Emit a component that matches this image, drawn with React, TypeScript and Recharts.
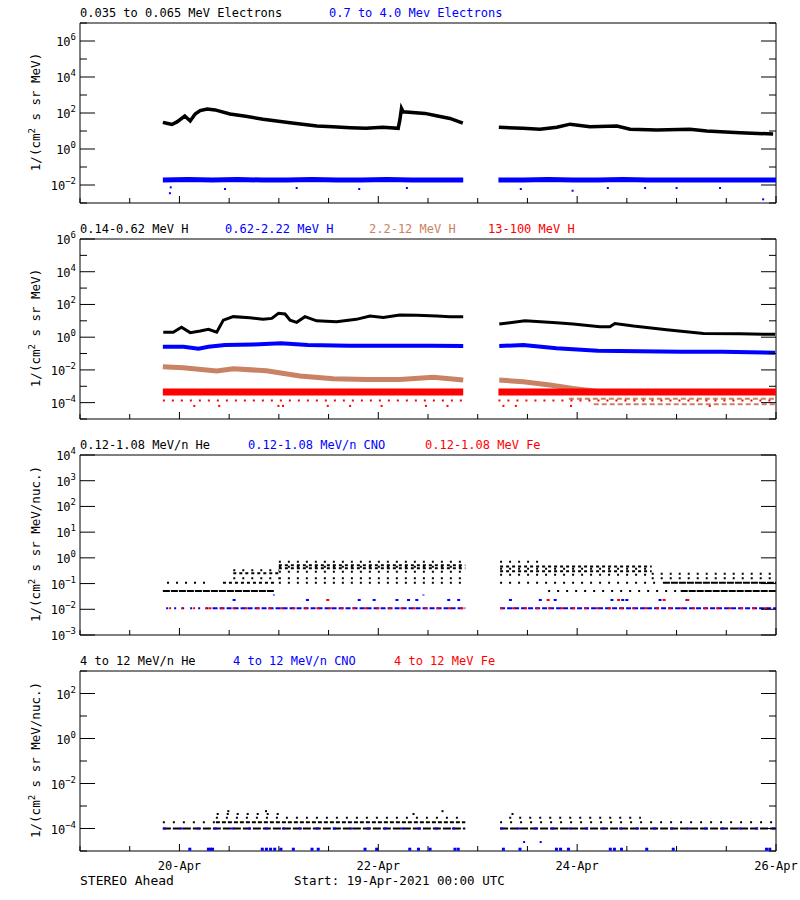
import { ComposedChart, Line, Scatter, XAxis, YAxis, ReferenceArea } from 'recharts'

type Pt = [number, number]
type Run = [number, number, number]

const FONT = "'DejaVu Sans Mono', 'Liberation Mono', monospace"
const TAN = '#c98264'

// time axis: hours since 19-Apr-2021 00:00 UTC
const hourTicks = [0, 12, 24, 36, 48, 60, 72, 84, 96, 108, 120, 132, 144, 156, 168]
const dateLabels: Record<number, string> = { 24: '20-Apr', 72: '22-Apr', 120: '24-Apr', 168: '26-Apr' }

// y ticks per panel (decades) and the ones that carry a label
const p1Ticks = [1e-3, 1e-2, 1e-1, 1, 1e1, 1e2, 1e3, 1e4, 1e5, 1e6, 1e7]
const p1Labelled = [-2, 0, 2, 4, 6]
const p2Ticks = [1e-5, 1e-4, 1e-3, 1e-2, 1e-1, 1, 1e1, 1e2, 1e3, 1e4, 1e5, 1e6]
const p2Labelled = [-4, -2, 0, 2, 4, 6]
const p3Ticks = [1e-3, 1e-2, 1e-1, 1, 1e1, 1e2, 1e3, 1e4]
const p3Labelled = [-3, -2, -1, 0, 1, 2, 3, 4]
const p4Ticks = [1e-5, 1e-4, 1e-3, 1e-2, 1e-1, 1, 1e1, 1e2, 1e3]
const p4Labelled = [-4, -2, 0, 2]

// panel 1: electrons
const eLowSeg1: Pt[] = [
  [20, 30], [21.2, 26], [22.2, 23], [23.4, 32], [25.3, 68], [26.6, 36], [27.8, 88], [29, 135],
  [30.7, 165], [32.6, 148], [36.2, 88], [40, 66], [44.2, 45], [50.7, 29], [57.2, 19], [61, 17],
  [65.2, 15], [69, 14], [73.1, 16], [76.8, 14], [77.2, 40], [77.6, 180], [78, 117], [83.3, 95],
  [86, 70], [89.3, 50], [92.4, 27],
]
const eLowSeg2: Pt[] = [
  [101.1, 16], [106.9, 14], [111, 12.6], [115.1, 16], [118.3, 24], [123.1, 17], [129.6, 19],
  [132.8, 12.6], [139.3, 11.5], [147.2, 12.6], [151.3, 10], [159.3, 8.1], [167.3, 6.8],
]
const eHighSeg1: Pt[] = [
  [20, 0.019], [26, 0.02], [32, 0.019], [38, 0.02], [44, 0.019], [50, 0.019], [56, 0.02],
  [62, 0.019], [68, 0.019], [74, 0.02], [80, 0.019], [86, 0.019], [92.5, 0.019],
]
const eHighSeg2: Pt[] = [
  [101, 0.019], [107, 0.019], [113, 0.02], [119, 0.019], [125, 0.019], [131, 0.02], [137, 0.019],
  [143, 0.019], [149, 0.019], [155, 0.019], [161, 0.019], [168, 0.019],
]
const eHighLow: Pt[] = [
  [21.7, 0.0035], [21.9, 0.0074], [35, 0.006], [52.3, 0.0068], [67.4, 0.006], [78.9, 0.0068],
  [106.4, 0.006], [118.9, 0.0048], [127.4, 0.0068], [136.4, 0.0068], [144, 0.0068],
  [154.5, 0.0068], [164.9, 0.0016],
]

// panel 2: protons
const h1Seg1: Pt[] = [
  [20.1, 2.0], [22.5, 2.0], [24.5, 4.0], [26.6, 1.9], [29, 2.4], [31, 3.0], [33, 2.0], [34.6, 11],
  [37, 18], [41, 15.5], [44.2, 12.3], [46.3, 14], [47.9, 29], [49.5, 26], [50.7, 11], [52.3, 8.1],
  [54.3, 18], [57.1, 10], [61.9, 8.9], [66.7, 12.3], [70, 19.5], [73.2, 16], [77.2, 23],
  [81.3, 22], [86.1, 20], [89.3, 18], [92.5, 18],
]
const h1Seg2: Pt[] = [
  [101.2, 6.3], [107.4, 10], [115, 7.6], [119, 6.3], [125.5, 4.4], [127.9, 4.4], [129.1, 6.9],
  [133.6, 4.8], [141.6, 2.8], [150.5, 1.7], [159.3, 1.6], [167.8, 1.5],
]
const h2Seg1: Pt[] = [
  [20, 0.26], [25, 0.26], [28.6, 0.2], [31, 0.26], [35, 0.33], [42, 0.36], [48.5, 0.42],
  [55, 0.33], [65, 0.3], [75, 0.3], [85, 0.3], [92.5, 0.29],
]
const h2Seg2: Pt[] = [
  [101.2, 0.29], [107, 0.33], [115, 0.21], [125, 0.15], [135, 0.14], [145, 0.13], [155, 0.13],
  [167.8, 0.11],
]
const h3Seg1: Pt[] = [
  [20, 0.0155], [24.9, 0.0135], [33, 0.0085], [37, 0.0117], [45, 0.0089], [53.1, 0.0043],
  [61.1, 0.0029], [69.2, 0.0026], [77.2, 0.0026], [85.3, 0.0035], [92.5, 0.0024],
]
const h3Seg2: Pt[] = [
  [101.2, 0.0024], [107, 0.0019], [113.4, 0.0012], [119, 0.00074], [125.5, 0.00047],
]
const h3Levels: Run[] = [
  [118, 168, 1.7e-4], [124, 168, 8.1e-5],
]
const h4Seg1: Pt[] = [[20, 4.5e-4], [50, 4.5e-4], [92.5, 4.5e-4]]
const h4Seg2: Pt[] = [[101, 4.5e-4], [135, 4.5e-4], [168, 4.5e-4]]
const h4Sparse: Run[] = [[20, 93, 1.35e-4], [101, 168, 1.35e-4]]
const h4Low = [27.6, 33.6, 47.9, 49, 59.8, 65.2, 72.8, 83.5, 88.7, 102.2, 105.2, 118.5, 152]

// panel 3: 0.12-1.08 MeV/n ions (count levels)
const heLoDense: Run[] = [[20, 47, 0.051], [145, 168, 0.051], [140.7, 168, 0.107]]
const heLoMedium: Run[] = [
  [48, 93, 0.52], [48, 93, 0.39], [37, 48, 0.25], [34.5, 47, 0.107],
  [101.4, 138, 0.46], [101.4, 138, 0.3],
]
const heLoSparse: Run[] = [
  [21, 31, 0.107], [48, 93, 0.7], [48, 93, 0.45], [48, 93, 0.29], [48, 93, 0.16], [48, 93, 0.107],
  [37, 48, 0.16], [37, 48, 0.33], [101.4, 112, 0.71], [101.4, 138, 0.38], [101.4, 138, 0.22],
  [101.4, 140, 0.107], [113, 145, 0.051], [138, 168, 0.24], [138, 168, 0.16],
]
const cnoLoRuns: Run[] = [[32, 93, 0.011], [101.4, 168, 0.011]]
const cnoLoSparse: Run[] = [[20.8, 32, 0.011]]
const cnoLoUpper = [37.2, 54.9, 67.4, 71, 76.5, 79.3, 81.3, 89, 91.4, 103.9, 111.1, 114.7, 128.4, 131, 132, 140, 146.5]
const cnoLoTop = [46.8, 82.9]
const feLoRuns: Run[] = [[31, 93, 0.011], [101.4, 168, 0.011]]
const feLoSparse: Run[] = [[21.5, 31, 0.011]]
const feLoUpper = [59.8, 113, 130, 141, 146.7]

// panel 4: 4-12 MeV/n ions
const heHiDense: Run[] = [[20, 93, 1e-4], [101.4, 168, 1e-4]]
const heHiMedium: Run[] = [[32.8, 93, 1.9e-4]]
const heHiSparse: Run[] = [
  [20, 32.8, 1.9e-4], [101.4, 168, 1.9e-4], [32.8, 93, 3e-4], [103.6, 135.4, 3e-4], [33, 49, 4.4e-4],
]
const heHiPts: Pt[] = [[35.8, 5.9e-4], [44.9, 5.9e-4], [80.5, 4.4e-4], [87.5, 5.9e-4], [104.4, 4.4e-4]]
const cnoHiRuns: Run[] = [[20, 93, 1e-4], [101.4, 168, 1e-4]]
const cnoHiBottom = [
  26.5, 31, 31.5, 32, 44, 45, 46, 47, 48.5, 51.5, 56, 57.5, 68.8, 71.6, 79.6, 81.7, 84.5, 90.5,
  91.3, 102.2, 106.2, 115, 116, 117.9, 128, 129, 130.7, 136.8, 143.2, 165.7, 166.5,
]
const cnoHiMid = [107.2, 111.2]

type Row = { t: number; v: number | null }

const joinSegments = (...segs: Pt[][]): Row[] =>
  segs.flatMap((s, i) => {
    const rows = s.map(([t, v]) => ({ t, v }))
    return i === 0 ? rows : [{ t: s[0][0] - 0.1, v: null }, ...rows]
  })
const fromRuns = (runs: Run[]): Row[] =>
  runs.flatMap(([a, b, v]) => [{ t: a, v }, { t: b, v }, { t: b, v: null }])
const atLevel = (hours: number[], v: number): Row[] => hours.map((t) => ({ t, v }))
const fromPts = (pts: Pt[]): Row[] => pts.map(([t, v]) => ({ t, v }))

const supExp = (e: number) => (e < 0 ? '\u2212' + -e : String(e))

const square = (color: string, w = 2, h = 2) => (p: any) =>
  p.cx == null ? <g /> : <rect x={p.cx - w / 2} y={p.cy - h / 2} width={w} height={h} fill={color} />

function frame(ticks: number[], labelled: number[], showDates: boolean) {
  const domain: [number, number] = [ticks[0], ticks[ticks.length - 1]]
  return [
    <ReferenceArea
      key="box" xAxisId="b" yAxisId="l" x1={0} x2={168} y1={domain[0]} y2={domain[1]}
      fill="none" fillOpacity={0} stroke="#000" strokeWidth={1} ifOverflow="visible"
    />,
    <XAxis
      key="xb" xAxisId="b" type="number" dataKey="t" domain={[0, 168]} ticks={hourTicks}
      interval={0} allowDataOverflow height={1} tickSize={0} tickMargin={0} tickLine={false}
      axisLine={false}
      tick={(p: any) => {
        const major = dateLabels[p.payload.value] !== undefined
        return (
          <g>
            <line x1={p.x} x2={p.x} y1={p.y} y2={p.y - (major ? 7 : 5)} stroke="#000" strokeWidth={1} />
            {showDates && major && (
              <text x={p.x} y={p.y + 19} textAnchor="middle" fontFamily={FONT} fontSize={12} fill="#000">
                {dateLabels[p.payload.value]}
              </text>
            )}
          </g>
        )
      }}
    />,
    <XAxis
      key="xt" xAxisId="t" orientation="top" type="number" domain={[0, 168]} ticks={hourTicks}
      interval={0} allowDataOverflow height={1} tickSize={0} tickMargin={0} tickLine={false}
      axisLine={false}
      tick={(p: any) => {
        const major = dateLabels[p.payload.value] !== undefined
        return <line x1={p.x} x2={p.x} y1={p.y} y2={p.y + (major ? 7 : 5)} stroke="#000" strokeWidth={1} />
      }}
    />,
    <YAxis
      key="yl" yAxisId="l" orientation="left" type="number" scale="log" domain={domain} ticks={ticks}
      interval={0} allowDataOverflow width={80} tickSize={0} tickMargin={0} tickLine={false}
      axisLine={false}
      tick={(p: any) => {
        const e = Math.round(Math.log10(p.payload.value))
        const on = labelled.includes(e)
        return (
          <g>
            <line x1={p.x} x2={p.x + (on ? 15 : 7)} y1={p.y} y2={p.y} stroke="#000" strokeWidth={1} />
            {on && (
              <text x={p.x - 4} y={p.y + 5} textAnchor="end" fontFamily={FONT} fontSize={12} fill="#000">
                10<tspan dy={-6} fontSize={9}>{supExp(e)}</tspan>
              </text>
            )}
          </g>
        )
      }}
    />,
    <YAxis
      key="yr" yAxisId="r" orientation="right" type="number" scale="log" domain={domain} ticks={ticks}
      interval={0} allowDataOverflow width={1} tickSize={0} tickMargin={0} tickLine={false}
      axisLine={false}
      tick={(p: any) => {
        const e = Math.round(Math.log10(p.payload.value))
        const on = labelled.includes(e)
        return <line x1={p.x} x2={p.x - (on ? 15 : 7)} y1={p.y} y2={p.y} stroke="#000" strokeWidth={1} />
      }}
    />,
  ]
}

const lineProps = {
  xAxisId: 'b', yAxisId: 'l', dataKey: 'v', type: 'linear' as const, dot: false,
  isAnimationActive: false, connectNulls: false,
}
const dotProps = { xAxisId: 'b', yAxisId: 'l', dataKey: 'v', isAnimationActive: false }

const margin = { top: 22, right: 23, bottom: 12, left: 0 }

function Panel1() {
  return (
    <ComposedChart width={800} height={216} margin={margin}>
      {frame(p1Ticks, p1Labelled, false)}
      <Line {...lineProps} data={joinSegments(eLowSeg1, eLowSeg2)} stroke="#000" strokeWidth={3.5} />
      <Line {...lineProps} data={joinSegments(eHighSeg1, eHighSeg2)} stroke="#0000ff" strokeWidth={5} />
      <Scatter {...dotProps} data={fromPts(eHighLow)} shape={square('#0000ff')} />
    </ComposedChart>
  )
}

function Panel2() {
  return (
    <ComposedChart width={800} height={216} margin={margin}>
      {frame(p2Ticks, p2Labelled, false)}
      <Line {...lineProps} data={joinSegments(h1Seg1, h1Seg2)} stroke="#000" strokeWidth={3} />
      <Line {...lineProps} data={joinSegments(h2Seg1, h2Seg2)} stroke="#0000ff" strokeWidth={4} />
      <Line {...lineProps} data={joinSegments(h3Seg1, h3Seg2)} stroke={TAN} strokeWidth={5} />
      <Line {...lineProps} data={fromRuns(h3Levels)} stroke={TAN} strokeWidth={2} strokeDasharray="5 3" />
      <Line {...lineProps} data={joinSegments(h4Seg1, h4Seg2)} stroke="#ff0000" strokeWidth={7} />
      <Line {...lineProps} data={fromRuns(h4Sparse)} stroke="#ff0000" strokeWidth={2} strokeDasharray="2 7" />
      <Scatter {...dotProps} data={atLevel(h4Low, 6.3e-5)} shape={square('#ff0000')} />
    </ComposedChart>
  )
}

function Panel3() {
  return (
    <ComposedChart width={800} height={216} margin={margin}>
      {frame(p3Ticks, p3Labelled, false)}
      <Line {...lineProps} data={fromRuns(heLoDense)} stroke="#000" strokeWidth={2} strokeDasharray="7 1" />
      <Line {...lineProps} data={fromRuns(heLoMedium)} stroke="#000" strokeWidth={2} strokeDasharray="3 3" />
      <Line {...lineProps} data={fromRuns(heLoSparse)} stroke="#000" strokeWidth={2} strokeDasharray="2 7" />
      <Line {...lineProps} data={fromRuns(cnoLoRuns)} stroke="#0000ff" strokeWidth={2} strokeDasharray="5 2" />
      <Line {...lineProps} data={fromRuns(cnoLoSparse)} stroke="#0000ff" strokeWidth={2} strokeDasharray="2 6" />
      <Line {...lineProps} data={fromRuns(feLoRuns)} stroke="#ff0000" strokeWidth={2} strokeDasharray="3 9" />
      <Line {...lineProps} data={fromRuns(feLoSparse)} stroke="#ff0000" strokeWidth={2} strokeDasharray="2 10" />
      <Scatter {...dotProps} data={atLevel(cnoLoUpper, 0.023)} shape={square('#0000ff', 3, 2)} />
      <Scatter {...dotProps} data={atLevel(cnoLoTop, 0.036)} shape={square('#0000ff', 2, 1)} />
      <Scatter {...dotProps} data={atLevel(feLoUpper, 0.023)} shape={square('#ff0000', 3, 2)} />
    </ComposedChart>
  )
}

function Panel4() {
  return (
    <ComposedChart width={800} height={252} margin={{ ...margin, bottom: 48 }}>
      {frame(p4Ticks, p4Labelled, true)}
      <Line {...lineProps} data={fromRuns(heHiDense)} stroke="#000" strokeWidth={2} strokeDasharray="8 2" />
      <Line {...lineProps} data={fromRuns(heHiMedium)} stroke="#000" strokeWidth={2} strokeDasharray="4 2" />
      <Line {...lineProps} data={fromRuns(heHiSparse)} stroke="#000" strokeWidth={2} strokeDasharray="2 8" />
      <Scatter {...dotProps} data={fromPts(heHiPts)} shape={square('#000')} />
      <Line {...lineProps} data={fromRuns(cnoHiRuns)} stroke="#0000ff" strokeWidth={2} strokeDasharray="3 14" />
      <Scatter {...dotProps} data={atLevel(cnoHiBottom, 1.2e-5)} shape={square('#0000ff', 3, 3)} />
      <Scatter {...dotProps} data={atLevel(cnoHiMid, 2.5e-5)} shape={square('#0000ff', 2, 2)} />
    </ComposedChart>
  )
}

const titles = [
  { y: 17, items: [['0.035 to 0.065 MeV Electrons', 80, '#000'], ['0.7 to 4.0 Mev Electrons', 329, '#0000ff']] },
  {
    y: 233,
    items: [
      ['0.14-0.62 MeV H', 80, '#000'], ['0.62-2.22 MeV H', 225, '#0000ff'],
      ['2.2-12 MeV H', 369, TAN], ['13-100 MeV H', 488, '#ff0000'],
    ],
  },
  {
    y: 449,
    items: [
      ['0.12-1.08 MeV/n He', 80, '#000'], ['0.12-1.08 MeV/n CNO', 248, '#0000ff'],
      ['0.12-1.08 MeV Fe', 425, '#ff0000'],
    ],
  },
  {
    y: 665,
    items: [
      ['4 to 12 MeV/n He', 80, '#000'], ['4 to 12 MeV/n CNO', 233, '#0000ff'], ['4 to 12 MeV Fe', 394, '#ff0000'],
    ],
  },
]
const yLabels = [
  { cy: 112, unit: ' s sr MeV)' },
  { cy: 328, unit: ' s sr MeV)' },
  { cy: 544, unit: ' s sr MeV/nuc.)' },
  { cy: 760, unit: ' s sr MeV/nuc.)' },
]

export default function App() {
  return (
    <div style={{ position: 'absolute', left: 0, top: 0, width: 800, height: 900, background: '#fff' }}>
      <div style={{ position: 'absolute', left: 0, top: 0 }}><Panel1 /></div>
      <div style={{ position: 'absolute', left: 0, top: 216 }}><Panel2 /></div>
      <div style={{ position: 'absolute', left: 0, top: 432 }}><Panel3 /></div>
      <div style={{ position: 'absolute', left: 0, top: 648 }}><Panel4 /></div>
      <svg width={800} height={900} style={{ position: 'absolute', left: 0, top: 0, pointerEvents: 'none' }}>
        {titles.map((row) =>
          row.items.map(([text, x, color]) => (
            <text key={text as string} x={x as number} y={row.y} fill={color as string} fontFamily={FONT} fontSize={12}>
              {text}
            </text>
          ))
        )}
        {yLabels.map((l, i) => (
          <text
            key={i}
            transform={`translate(40 ${l.cy}) rotate(-90)`}
            textAnchor="middle" fontFamily={FONT} fontSize={12.5} fill="#000"
          >
            1/(cm<tspan dy={-5} fontSize={9}>2</tspan>
            <tspan dy={5}>{l.unit}</tspan>
          </text>
        ))}
        <text x={80} y={885} fontFamily={FONT} fontSize={13} fill="#000">STEREO Ahead</text>
        <text x={294} y={885} fontFamily={FONT} fontSize={12.5} fill="#000">Start: 19-Apr-2021 00:00 UTC</text>
      </svg>
    </div>
  )
}
